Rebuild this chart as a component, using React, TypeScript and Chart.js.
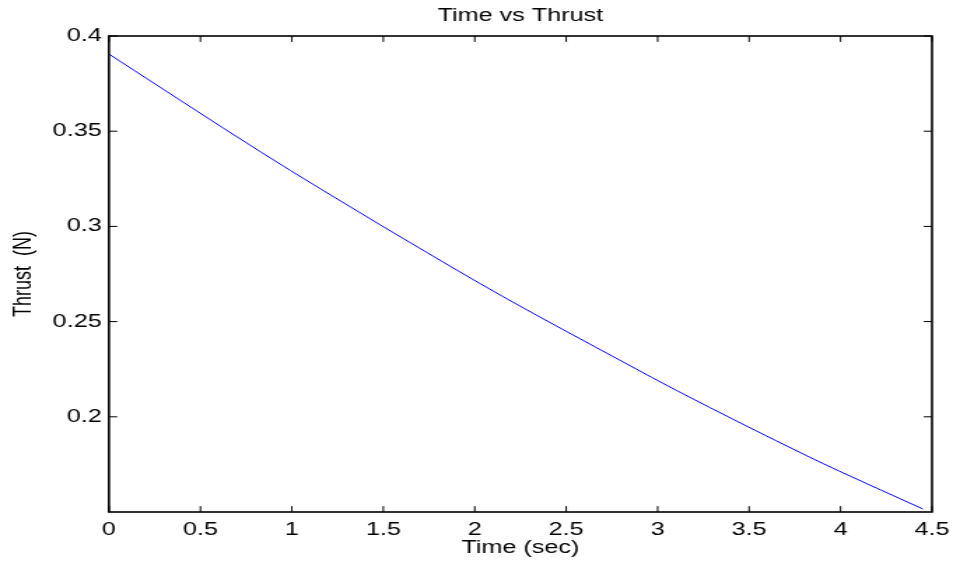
import React, { useEffect, useRef } from 'react';
import { Chart, registerables } from 'chart.js';

Chart.register(...registerables);

// ---- data ----
const timeSec = [0, 0.83, 1.155, 1.828, 2.153, 2.825, 3.106, 3.829, 3.99, 4.45];
const thrustN = [0.3905, 0.3391, 0.3198, 0.2812, 0.2632, 0.2281, 0.2137, 0.1789, 0.1716, 0.1516];

const xTickValues = [0, 0.5, 1, 1.5, 2, 2.5, 3, 3.5, 4, 4.5];
const xTickLabels = ['0', '0.5', '1', '1.5', '2', '2.5', '3', '3.5', '4', '4.5'];
const yTickValues = [0.2, 0.25, 0.3, 0.35, 0.4];
const yTickLabels = ['0.2', '0.25', '0.3', '0.35', '0.4'];

const chartTitle = 'Time vs Thrust';
const xTitle = 'Time (sec)';
const yTitle = 'Thrust  (N)';

// the reference is horizontally stretched; draw narrower and stretch with CSS
const STRETCH = 1.4;
const OUT_W = 960;
const OUT_H = 565;
const W = Math.round(OUT_W / STRETCH);
const H = OUT_H;
const FONT = '"Liberation Sans", Arial, Helvetica, sans-serif';

const labelFor = (vals: number[], labels: string[], v: number) => {
  const i = vals.findIndex((t) => Math.abs(t - v) < 1e-9);
  return i >= 0 ? labels[i] : '';
};

const boxPlugin = {
  id: 'matlabBox',
  afterDraw(chart: any) {
    const { ctx, chartArea } = chart;
    const { left, right, top, bottom } = chartArea;
    const xs = chart.scales.x;
    const ys = chart.scales.y;
    const TL = 5.9;
    ctx.save();
    ctx.strokeStyle = '#000';
    ctx.lineWidth = 1;
    ctx.beginPath();
    xTickValues.forEach((v) => {
      const p = xs.getPixelForValue(v);
      ctx.moveTo(p, bottom);
      ctx.lineTo(p, bottom - TL);
      ctx.moveTo(p, top);
      ctx.lineTo(p, top + TL);
    });
    yTickValues.forEach((v) => {
      const p = ys.getPixelForValue(v);
      ctx.moveTo(left, p);
      ctx.lineTo(left + TL, p);
      ctx.moveTo(right, p);
      ctx.lineTo(right - TL, p);
    });
    ctx.stroke();
    ctx.lineWidth = 1.6;
    ctx.strokeRect(left, top, right - left, bottom - top);
    ctx.restore();
  },
};

export default function App() {
  const ref = useRef<HTMLCanvasElement | null>(null);

  useEffect(() => {
    if (!ref.current) return;
    const chart = new Chart(ref.current, {
      type: 'line',
      data: {
        datasets: [
          {
            data: timeSec.map((t, i) => ({ x: t, y: thrustN[i] })),
            borderColor: '#0000ff',
            borderWidth: 1,
            pointRadius: 0,
            fill: false,
            cubicInterpolationMode: 'monotone',
          },
        ],
      },
      options: {
        responsive: false,
        animation: false,
        devicePixelRatio: 1,
        layout: { padding: { left: 0, right: 15, top: 0, bottom: 0 } },
        plugins: {
          legend: { display: false },
          tooltip: { enabled: false },
          title: {
            display: true,
            fullSize: false,
            text: chartTitle,
            color: '#000',
            font: { family: FONT, size: 18, weight: 'normal' },
            padding: { top: 5, bottom: 9.4 },
          },
        },
        scales: {
          x: {
            type: 'linear',
            min: 0,
            max: 4.5,
            grid: { display: false, drawTicks: false },
            border: { display: false },
            afterBuildTicks: (scale: any) => {
              scale.ticks = xTickValues.map((v) => ({ value: v }));
            },
            afterFit: (scale: any) => {
              scale.height = 53;
            },
            ticks: {
              color: '#000',
              padding: 7.5,
              maxRotation: 0,
              autoSkip: false,
              font: { family: FONT, size: 18 },
              callback: (v: any) => labelFor(xTickValues, xTickLabels, Number(v)),
            },
            title: {
              display: true,
              text: xTitle,
              color: '#000',
              font: { family: FONT, size: 18 },
              padding: { top: 0, bottom: 6.2 },
            },
          },
          y: {
            type: 'linear',
            min: 0.15,
            max: 0.4,
            grid: { display: false, drawTicks: false },
            border: { display: false },
            afterBuildTicks: (scale: any) => {
              scale.ticks = yTickValues.map((v) => ({ value: v }));
            },
            afterFit: (scale: any) => {
              scale.width = 109 / STRETCH;
            },
            ticks: {
              color: '#000',
              padding: 5.2,
              autoSkip: false,
              font: { family: FONT, size: 18 },
              callback: (v: any) => labelFor(yTickValues, yTickLabels, Number(v)),
            },
            title: {
              display: true,
              text: yTitle,
              color: '#000',
              font: { family: FONT, size: 18 },
              padding: { top: 6.3, bottom: 0 },
            },
          },
        },
      },
      plugins: [boxPlugin],
    } as any);
    return () => chart.destroy();
  }, []);

  return (
    <div style={{ position: 'absolute', left: 0, top: 0, width: OUT_W, height: OUT_H, background: '#fff' }}>
      <canvas
        ref={ref}
        width={W}
        height={H}
        style={{ width: OUT_W + 'px', height: OUT_H + 'px', display: 'block' }}
      />
    </div>
  );
}
